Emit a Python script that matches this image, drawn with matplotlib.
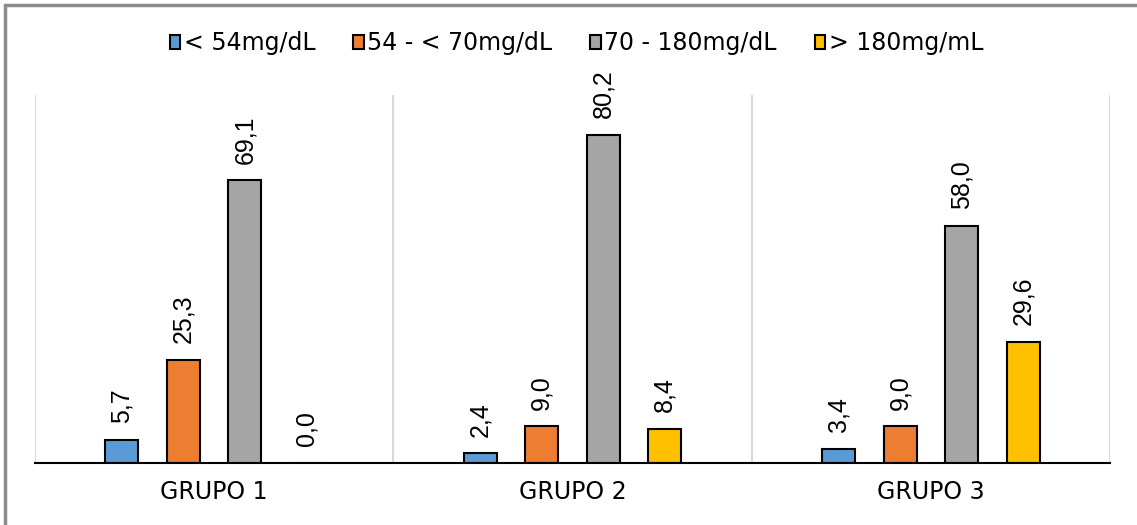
import numpy as np
import matplotlib.pyplot as plt
from matplotlib.patches import Rectangle

# data
grupos = ['GRUPO 1', 'GRUPO 2', 'GRUPO 3']
series = ['< 54mg/dL', '54 - < 70mg/dL', '70 - 180mg/dL', '> 180mg/mL']
menor_54 = [5.7, 2.4, 3.4]
de_54_70 = [25.3, 9.0, 9.0]
de_70_180 = [69.1, 80.2, 58.0]
mayor_180 = [0.0, 8.4, 29.6]
colores = ['#5B9BD5', '#ED7D31', '#A5A5A5', '#FFC000']

valores = [menor_54, de_54_70, de_70_180, mayor_180]

fig = plt.figure(figsize=(11.37, 5.25), dpi=100)
ax = fig.add_axes([35/1137, 1-463/525, (1110-35)/1137, (463-95)/525])

x = np.arange(len(grupos))
paso = 0.1718
ancho = 0.092

for i, (nombre, vals, col) in enumerate(zip(series, valores, colores)):
    pos = x + (i - 1.5) * paso
    ax.bar(pos, vals, width=ancho, color=col, edgecolor='black', linewidth=1.5,
           label=nombre, zorder=3)
    for px, v in zip(pos, vals):
        ax.annotate(f'{v:.1f}'.replace('.', ','), (px, v), xytext=(0, 12),
                    textcoords='offset points', rotation=90, ha='center', va='bottom',
                    fontsize=18, family='Liberation Sans')

# separators between categories
for b in np.arange(-0.5, len(grupos), 1.0):
    ax.axvline(b, color='#d9d9d9', lw=1.5, zorder=1)

ax.set_xlim(-0.5, len(grupos) - 0.5)
ax.set_ylim(0, 90)
ax.set_xticks(x)
ax.set_xticklabels(grupos, fontsize=17, family='DejaVu Sans')
ax.tick_params(axis='x', length=0, pad=12)
ax.set_yticks([])
for s in ['left', 'right', 'top']:
    ax.spines[s].set_visible(False)
ax.spines['bottom'].set_linewidth(1.5)
ax.spines['bottom'].set_zorder(4)

fig.legend(loc='center', bbox_to_anchor=(0.507, 1-43/525), ncol=4, frameon=False,
           prop={'family': 'DejaVu Sans', 'size': 17}, handlelength=0.45,
           handleheight=0.55, handletextpad=0.15, columnspacing=1.6)

# outer frame of the figure
fig.patches.append(Rectangle((5/1137, -0.1), 1.2, 1.1 - 5/525 + 0.0, transform=fig.transFigure,
                             fill=False, edgecolor='#8c8c8c', lw=2.5))

fig.savefig('out.png', dpi=100)
